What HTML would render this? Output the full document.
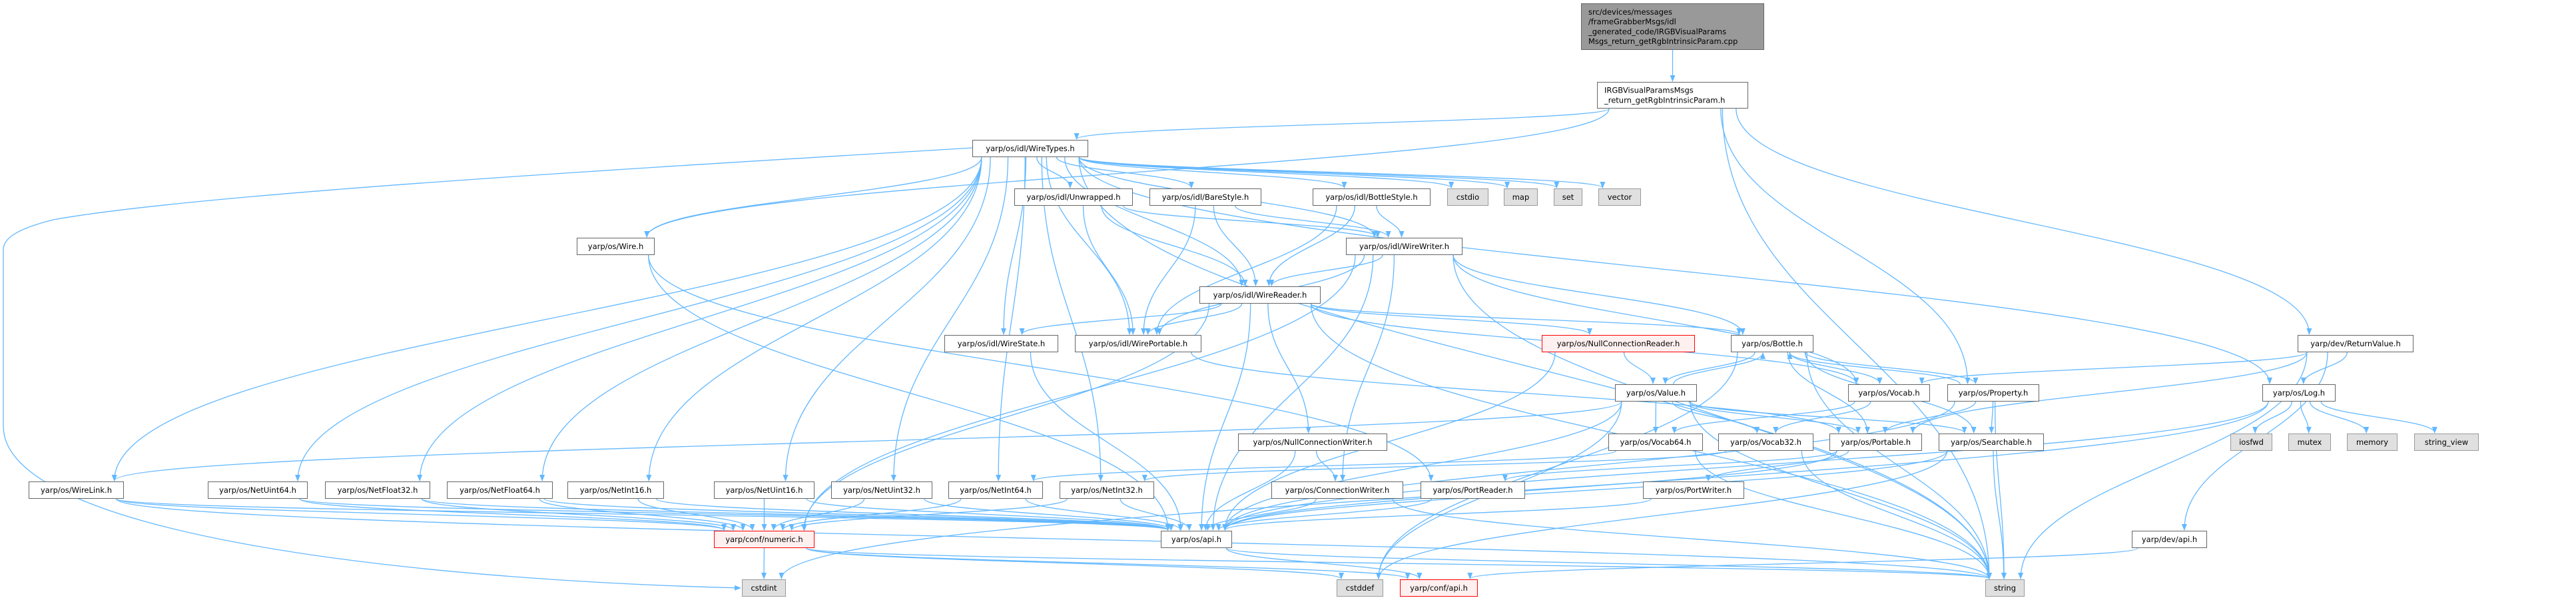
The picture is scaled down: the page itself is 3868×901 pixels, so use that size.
<!DOCTYPE html>
<html><head><meta charset="utf-8">
<style>
html,body{margin:0;padding:0;background:#fff;}
svg{display:block;}
text{font-family:"DejaVu Sans","Liberation Sans",sans-serif;font-size:11.5px;fill:#000;}
</style></head>
<body>
<svg id="g" width="3868" height="901" viewBox="0 0 3868 901" xmlns="http://www.w3.org/2000/svg">
<defs>
<marker id="a" markerWidth="10" markerHeight="8" refX="9" refY="4" orient="auto" markerUnits="userSpaceOnUse">
<path d="M0,0 L10,4 L0,8 z" fill="#63b8ff"/>
</marker>
</defs>
<g id="edges" fill="none" stroke="#63b8ff" stroke-width="1.3">
<path d="M1460,222 C1000,250 300,290 80,330 C20,345 5,360 5,375 L5,640 C5,800 600,870 1112,883" marker-end="url(#a)"/>
</g>
<g id="nodes"></g>
</svg>
<script>
var N={
top:[2374,5,2649,75,'d',["src/devices/messages","/frameGrabberMsgs/idl","_generated_code/IRGBVisualParams","Msgs_return_getRgbIntrinsicParam.cpp"]],
irgb:[2398,123,2625,163,'w',["IRGBVisualParamsMsgs","_return_getRgbIntrinsicParam.h"]],
wt:[1460,210,1634,236,'w',["yarp/os/idl/WireTypes.h"]],
wire:[866,357,983,383,'w',["yarp/os/Wire.h"]],
unw:[1523,283,1701,309,'w',["yarp/os/idl/Unwrapped.h"]],
bare:[1726,283,1894,309,'w',["yarp/os/idl/BareStyle.h"]],
bs:[1971,283,2148,309,'w',["yarp/os/idl/BottleStyle.h"]],
cstdio:[2173,283,2235,309,'g',["cstdio"]],
map:[2258,283,2309,309,'g',["map"]],
set:[2333,283,2376,309,'g',["set"]],
vector:[2400,283,2464,309,'g',["vector"]],
ww:[2021,357,2196,383,'w',["yarp/os/idl/WireWriter.h"]],
wr:[1801,430,1983,456,'w',["yarp/os/idl/WireReader.h"]],
ws:[1418,503,1589,529,'w',["yarp/os/idl/WireState.h"]],
wp:[1614,503,1804,529,'w',["yarp/os/idl/WirePortable.h"]],
ncr:[2315,503,2545,529,'r',["yarp/os/NullConnectionReader.h"]],
bottle:[2599,503,2723,529,'w',["yarp/os/Bottle.h"]],
rv:[3450,503,3624,529,'w',["yarp/dev/ReturnValue.h"]],
value:[2425,577,2548,603,'w',["yarp/os/Value.h"]],
vocab:[2775,577,2898,603,'w',["yarp/os/Vocab.h"]],
prop:[2924,577,3062,603,'w',["yarp/os/Property.h"]],
log:[3397,577,3507,603,'w',["yarp/os/Log.h"]],
ncw:[1859,651,2083,677,'w',["yarp/os/NullConnectionWriter.h"]],
v64:[2415,651,2557,677,'w',["yarp/os/Vocab64.h"]],
v32:[2580,651,2723,677,'w',["yarp/os/Vocab32.h"]],
port:[2747,651,2886,677,'w',["yarp/os/Portable.h"]],
search:[2911,651,3069,677,'w',["yarp/os/Searchable.h"]],
iosfwd:[3349,651,3412,677,'g',["iosfwd"]],
mutex:[3436,651,3500,677,'g',["mutex"]],
memory:[3524,651,3600,677,'g',["memory"]],
sview:[3625,651,3722,677,'g',["string_view"]],
wl:[43,723,186,749,'w',["yarp/os/WireLink.h"]],
nu64:[312,723,462,749,'w',["yarp/os/NetUint64.h"]],
nf32:[488,723,646,749,'w',["yarp/os/NetFloat32.h"]],
nf64:[671,723,830,749,'w',["yarp/os/NetFloat64.h"]],
ni16:[852,723,997,749,'w',["yarp/os/NetInt16.h"]],
nu16:[1072,723,1223,749,'w',["yarp/os/NetUint16.h"]],
nu32:[1248,723,1400,749,'w',["yarp/os/NetUint32.h"]],
ni64:[1424,723,1566,749,'w',["yarp/os/NetInt64.h"]],
ni32:[1591,723,1733,749,'w',["yarp/os/NetInt32.h"]],
cw:[1909,723,2107,749,'w',["yarp/os/ConnectionWriter.h"]],
pr:[2133,723,2290,749,'w',["yarp/os/PortReader.h"]],
pw:[2467,723,2619,749,'w',["yarp/os/PortWriter.h"]],
num:[1072,797,1223,823,'r',["yarp/conf/numeric.h"]],
api:[1743,797,1850,823,'w',["yarp/os/api.h"]],
dapi:[3201,797,3314,823,'w',["yarp/dev/api.h"]],
cstdint:[1114,870,1180,896,'g',["cstdint"]],
cstddef:[2007,870,2077,896,'g',["cstddef"]],
capi:[2102,870,2219,896,'r',["yarp/conf/api.h"]],
string:[2981,870,3040,896,'g',["string"]]
};
var E="top>irgb irgb>wt irgb>wire irgb>prop irgb>rv irgb>string "+
"wt>wire wt>unw wt>bare wt>bs wt>cstdio wt>map wt>set wt>vector wt>ww wt>wr wt>ws wt>wp wt>wl wt>nu64 wt>nf32 wt>nf64 wt>ni16 wt>nu16 wt>nu32 wt>ni64 wt>ni32 wt>log wt>string "+
"wire>pr wire>api unw>ww unw>wr unw>wp bare>ww bare>wr bare>wp bs>ww bs>wr bs>wp "+
"ww>wr ww>wp ww>api ww>cw ww>vocab ww>bottle ww>string ww>num "+
"wr>ws wr>wp wr>ncr wr>bottle wr>vocab wr>ncw wr>api wr>string wr>num "+
"ws>api wp>port ncr>value ncr>api "+
"bottle>value bottle>vocab bottle>prop bottle>port bottle>search bottle>string bottle>cstddef "+
"value>bottle value>v64 value>v32 value>port value>search value>wl value>cstddef value>string value>api "+
"vocab>v32 vocab>v64 prop>bottle prop>port prop>search prop>string prop>api "+
"v64>ni64 v64>string v32>ni32 v32>string port>pr port>pw port>api search>api search>string search>cstddef "+
"rv>vocab rv>port rv>log rv>dapi rv>string log>iosfwd log>mutex log>memory log>sview log>api log>cstdint "+
"ncw>cw ncw>api cw>api cw>string pr>api pw>api "+
"nu64>num nu64>api nf32>num nf32>api nf64>num nf64>api ni16>num ni16>api nu16>num nu16>api nu32>num nu32>api ni64>num ni64>api ni32>num ni32>api "+
"wl>num wl>api wl>string num>cstdint num>cstddef num>string num>capi api>capi api>string dapi>capi";
var NS="http://www.w3.org/2000/svg";
var eg=document.getElementById('edges'),ng=document.getElementById('nodes');
function cl(v,m){return Math.max(-m,Math.min(m,v));}
E.split(' ').forEach(function(s){
 if(!s)return;var p=s.split('>'),a=N[p[0]],b=N[p[1]];if(!a||!b)return;
 var acx=(a[0]+a[2])/2,bcx=(b[0]+b[2])/2,aw=a[2]-a[0],bw=b[2]-b[0];
 var sx,sy,ex,ey,d;
 if(b[1]>a[3]){
  sx=acx+cl((bcx-acx)*0.15,aw*0.42);sy=a[3];
  ex=bcx+cl((acx-bcx)*0.08,bw*0.4);ey=b[1]-1;
  var dy=ey-sy;
  d="M"+sx+","+sy+" C"+sx+","+(sy+dy*0.45)+" "+ex+","+(ey-dy*0.45)+" "+ex+","+ey;
 }else if(b[3]<a[1]){
  sx=acx+cl((bcx-acx)*0.15,aw*0.42);sy=a[1];
  ex=bcx+cl((acx-bcx)*0.08,bw*0.4);ey=b[3]+1;
  var dy=sy-ey;
  d="M"+sx+","+sy+" C"+sx+","+(sy-dy*0.45)+" "+ex+","+(ey+dy*0.45)+" "+ex+","+ey;
 }else{
  sy=(a[1]+a[3])/2;ey=(b[1]+b[3])/2;
  if(bcx>acx){sx=a[2];ex=b[0]-1;}else{sx=a[0];ex=b[2]+1;}
  d="M"+sx+","+sy+" C"+((sx+ex)/2)+","+sy+" "+((sx+ex)/2)+","+ey+" "+ex+","+ey;
 }
 var pa=document.createElementNS(NS,'path');pa.setAttribute('d',d);pa.setAttribute('marker-end','url(#a)');eg.appendChild(pa);
});
for(var k in N){var n=N[k];
 var r=document.createElementNS(NS,'rect');
 r.setAttribute('x',n[0]+0.5);r.setAttribute('y',n[1]+0.5);r.setAttribute('width',n[2]-n[0]-1);r.setAttribute('height',n[3]-n[1]-1);
 var f='#fff',st='#666';
 if(n[4]=='g'){f='#e0e0e0';st='#999';}else if(n[4]=='r'){f='#fff0f0';st='#ff0000';}else if(n[4]=='d'){f='#999';st='#666';}
 r.setAttribute('fill',f);r.setAttribute('stroke',st);r.setAttribute('stroke-width','1');ng.appendChild(r);
 var L=n[5];
 for(var i=0;i<L.length;i++){
  var t=document.createElementNS(NS,'text');t.textContent=L[i];
  if(L.length>1){t.setAttribute('x',n[0]+11);t.setAttribute('text-anchor','start');}
  else{t.setAttribute('x',(n[0]+n[2])/2);t.setAttribute('text-anchor','middle');}
  var cy=(n[1]+n[3])/2,lh=14.6;
  t.setAttribute('y',cy+(i-(L.length-1)/2)*lh+4);
  ng.appendChild(t);
 }
}
</script>
</body></html>
